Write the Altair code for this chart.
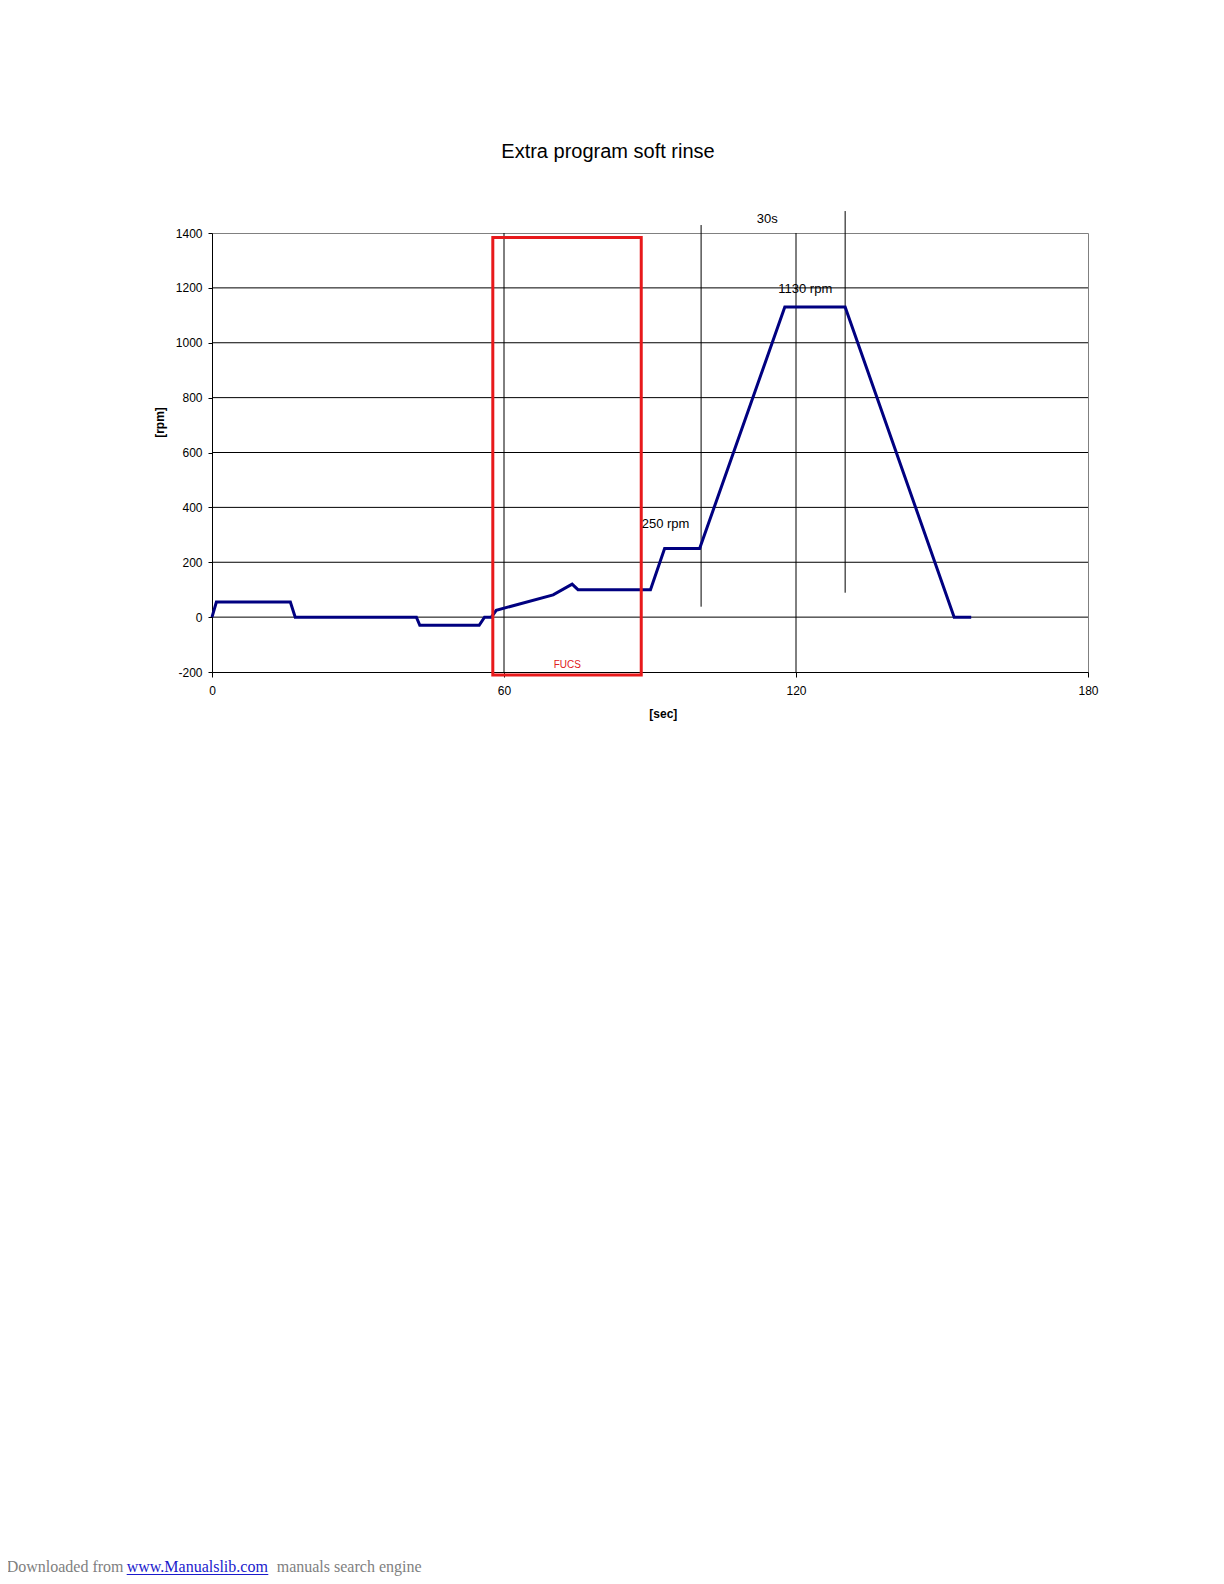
import altair as alt
import pandas as pd

# ---- data ----
time_s = [0, 0.9, 16.1, 17.1, 42.0, 42.7, 54.9, 56.0, 57.4, 58.4, 70.1, 74.0, 75.2,
          90.1, 93.0, 100.2, 117.7, 130.1, 152.5, 156.0]
rpm = [0, 55, 55, 0, 0, -30, -30, 0, 0, 25, 81, 120, 100,
       100, 250, 250, 1130, 1130, 0, 0]

x_ticks = [0, 60, 120, 180]
y_ticks = [-200, 0, 200, 400, 600, 800, 1000, 1200, 1400]
h_grid = [0, 200, 400, 600, 800, 1000, 1200]
v_grid = [60, 120]

marker_x = [100.5, 130.1]
marker_y0 = [38, 89]
marker_y1 = [1429, 1480]

fucs_box = {"x0": [57.7], "x1": [88.2], "y0": [-211], "y1": [1384]}

ann_text = ["30s", "1130 rpm", "250 rpm"]
ann_x = [114.1, 121.9, 93.2]
ann_y = [1452, 1196, 341]

fucs_label = ["FUCS"]
fucs_x = [73.0]
fucs_y = [-175]

FONT = "Liberation Sans"
W, H = 876, 439

xs = alt.Scale(domain=[0, 180], nice=False, zero=False)
ys = alt.Scale(domain=[-200, 1400], nice=False, zero=False)

X_AXIS = alt.Axis(values=x_ticks, title=None, grid=False, labelExpr="'' + datum.value",
                  labelFont=FONT, labelFontSize=12, labelColor="black",
                  domainColor="black", domainWidth=1, tickColor="black", tickSize=5,
                  labelPadding=8, labelFlush=False)
Y_AXIS = alt.Axis(values=y_ticks, title=None, grid=False, labelExpr="'' + datum.value",
                  labelFont=FONT, labelFontSize=12, labelColor="black",
                  domainColor="black", domainWidth=1, tickColor="black", tickSize=4,
                  labelPadding=6)


def X(f):
    return alt.X(f, scale=xs, axis=X_AXIS)


def Y(f):
    return alt.Y(f, scale=ys, axis=Y_AXIS)


df_line = pd.DataFrame({"t": time_s, "rpm": rpm})

hgrid = alt.Chart(pd.DataFrame({"v": h_grid})).mark_rule(color="black", strokeWidth=1).encode(
    y=Y("v:Q"))
vgrid = alt.Chart(pd.DataFrame({"v": v_grid})).mark_rule(color="black", strokeWidth=1).encode(
    x=X("v:Q"))

markers = alt.Chart(pd.DataFrame({"x": marker_x, "y0": marker_y0, "y1": marker_y1})).mark_rule(
    color="black", strokeWidth=1).encode(
    x=X("x:Q"), y=Y("y0:Q"), y2="y1:Q")

line = alt.Chart(df_line).mark_line(color="#000080", strokeWidth=3, strokeJoin="miter").encode(
    x=X("t:Q"), y=Y("rpm:Q"))

box = alt.Chart(pd.DataFrame(fucs_box)).mark_rect(
    fill="transparent", stroke="#e8191b", strokeWidth=3).encode(
    x=X("x0:Q"), x2="x1:Q", y=Y("y0:Q"), y2="y1:Q")

ann = alt.Chart(pd.DataFrame({"label": ann_text, "x": ann_x, "y": ann_y})).mark_text(
    font=FONT, fontSize=13, color="black", align="center", baseline="middle").encode(
    x=X("x:Q"), y=Y("y:Q"), text="label:N")

fucs = alt.Chart(pd.DataFrame({"label": fucs_label, "x": fucs_x, "y": fucs_y})).mark_text(
    font=FONT, fontSize=10, color="#e02020", align="center", baseline="middle").encode(
    x=X("x:Q"), y=Y("y:Q"), text="label:N")

one = pd.DataFrame({"a": [0]})

title = alt.Chart(one).mark_text(text="Extra program soft rinse", font=FONT, fontSize=20,
                                 color="black", align="center", baseline="alphabetic").encode(
    x=alt.value(396), y=alt.value(-74.7))

ytitle = alt.Chart(one).mark_text(text="[rpm]", font=FONT, fontSize=12, fontWeight="bold",
                                  color="black", align="center", baseline="middle", angle=270).encode(
    x=alt.value(-52.5), y=alt.value(189.5))

xtitle = alt.Chart(one).mark_text(text="[sec]", font=FONT, fontSize=12, fontWeight="bold",
                                  color="black", align="center", baseline="middle").encode(
    x=alt.value(451.3), y=alt.value(481))

foot1 = alt.Chart(one).mark_text(text="Downloaded from", font="Liberation Serif", fontSize=16,
                                 color="#808080", align="left", baseline="alphabetic").encode(
    x=alt.value(-205.3), y=alt.value(1338.7))
foot2 = alt.Chart(one).mark_text(text="www.Manualslib.com", font="Liberation Serif", fontSize=16,
                                 color="#1a1acc", align="left", baseline="alphabetic").encode(
    x=alt.value(-85.3), y=alt.value(1338.7))
foot_ul = alt.Chart(one).mark_rule(color="#1a1acc", strokeWidth=1).encode(
    x=alt.value(-85.3), x2=alt.value(56.3), y=alt.value(1341.5))
foot3 = alt.Chart(one).mark_text(text="manuals search engine", font="Liberation Serif", fontSize=16,
                                 color="#808080", align="left", baseline="alphabetic").encode(
    x=alt.value(64.7), y=alt.value(1338.7))

chart = alt.layer(
    hgrid, vgrid, markers, line, box, ann, fucs, title, ytitle, xtitle,
    foot1, foot2, foot_ul, foot3
).properties(
    width=W, height=H,
    autosize=alt.AutoSizeParams(type="none"),
    padding={"left": 204, "top": 225, "right": 128, "bottom": 904},
    background="white",
).configure_view(stroke="#808080", strokeWidth=1)

chart.save("out.html", embed_options={"renderer": "svg", "actions": False})
